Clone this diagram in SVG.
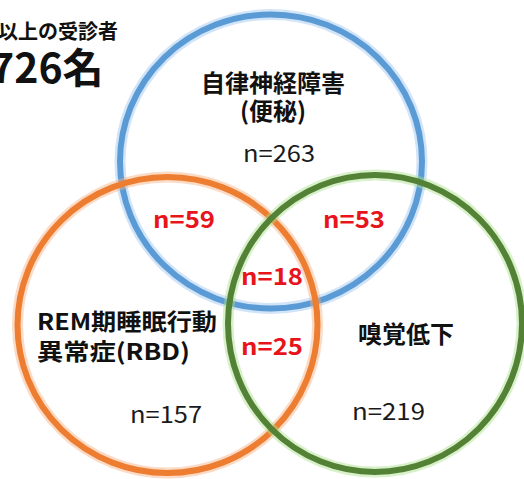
<svg xmlns="http://www.w3.org/2000/svg" width="524" height="479" viewBox="0 0 524 479">
<style>
.glow{fill:none;stroke-width:11;opacity:0.45}
.ring{fill:none;stroke-width:6}
.t{font-family:"Noto Sans CJK JP","Noto Sans",sans-serif;fill:#111}
.b{font-weight:700}
.red{font-family:"Noto Sans CJK JP","Noto Sans",sans-serif;font-weight:700;fill:#e8141c;font-size:23px;text-anchor:middle}
.n{font-family:"Noto Sans CJK JP","Noto Sans",sans-serif;fill:#1a1a1a;font-size:23px;text-anchor:middle}
</style>
<rect width="524" height="479" fill="#fff"/>
<g id="title">
<text class="t b" x="-2" y="39" font-size="20">以上の受診者</text>
<text class="t b" x="-10" y="83" font-size="41">726名</text>
</g>
<g id="circle-autonomic">
<ellipse class="glow" cx="271" cy="161.5" rx="151" ry="147" stroke="#9cc3f0"/>
<ellipse class="ring" cx="271" cy="161.5" rx="151" ry="147" stroke="#5b9bd5"/>
<text class="t b" x="273" y="92" font-size="24" text-anchor="middle">自律神経障害</text>
<text class="t b" x="273" y="120" font-size="24" text-anchor="middle">(便秘)</text>
<text class="n" x="279" y="162" textLength="72" lengthAdjust="spacingAndGlyphs">n=263</text>
</g>
<g id="circle-rbd">
<ellipse class="glow" cx="167.5" cy="325" rx="150" ry="148" stroke="#f7b07e"/>
<ellipse class="ring" cx="167.5" cy="325" rx="150" ry="148" stroke="#ed7d31"/>
<text class="t b" x="37" y="330" font-size="23" textLength="180" lengthAdjust="spacingAndGlyphs">REM期睡眠行動</text>
<text class="t b" x="37" y="360" font-size="23" textLength="153" lengthAdjust="spacingAndGlyphs">異常症(RBD)</text>
<text class="n" x="166" y="423" textLength="72" lengthAdjust="spacingAndGlyphs">n=157</text>
</g>
<g id="circle-smell">
<ellipse class="glow" cx="375" cy="323.5" rx="147" ry="148.5" stroke="#a9e08a"/>
<ellipse class="ring" cx="375" cy="323.5" rx="147" ry="148.5" stroke="#538135"/>
<text class="t b" x="406" y="343" font-size="24" text-anchor="middle">嗅覚低下</text>
<text class="n" x="388.5" y="420" textLength="73" lengthAdjust="spacingAndGlyphs">n=219</text>
</g>
<g id="overlaps">
<text class="red" x="184" y="228" textLength="62" lengthAdjust="spacingAndGlyphs">n=59</text>
<text class="red" x="354" y="228" textLength="62" lengthAdjust="spacingAndGlyphs">n=53</text>
<text class="red" x="272" y="285" textLength="62" lengthAdjust="spacingAndGlyphs">n=18</text>
<text class="red" x="272" y="355" textLength="62" lengthAdjust="spacingAndGlyphs">n=25</text>
</g>
</svg>
